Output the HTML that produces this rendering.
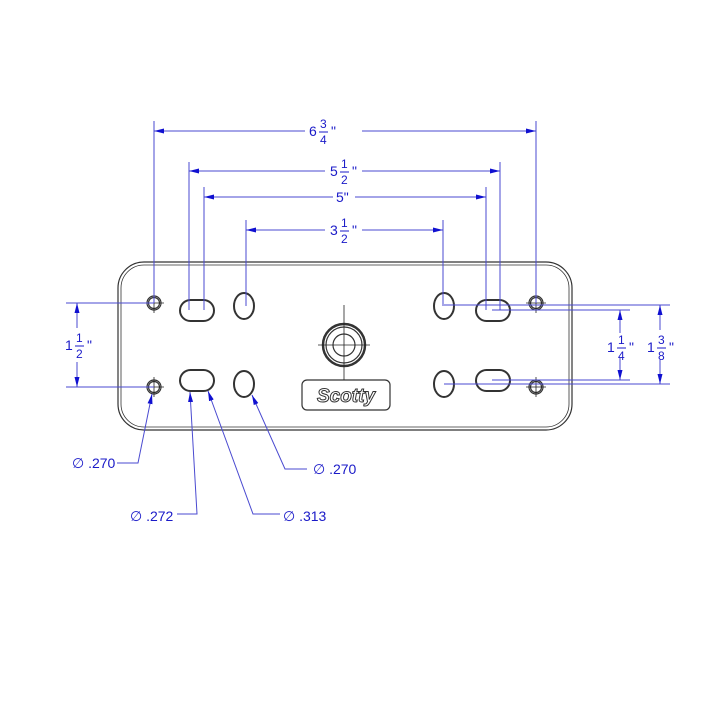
<!DOCTYPE html>
<html><head><style>html,body{margin:0;padding:0;background:#fff}svg{display:block}</style></head><body>
<svg width="720" height="720" viewBox="0 0 720 720" xmlns="http://www.w3.org/2000/svg">
<defs>
<marker id="a" markerWidth="10" markerHeight="6" refX="10" refY="3" orient="auto" markerUnits="userSpaceOnUse"><path d="M0,0.5 L10,3 L0,5.5Z" fill="#1010d0"/></marker>
</defs>
<g fill="none" stroke="#333" stroke-width="1.2">
<rect x="118" y="262" width="454" height="168" rx="26"/>
<rect x="121" y="265" width="448" height="162" rx="23" stroke-width="0.8"/>
<circle cx="154" cy="303" r="7"/><circle cx="154" cy="303" r="5.5"/>
<circle cx="154" cy="387" r="7"/><circle cx="154" cy="387" r="5.5"/>
<circle cx="536" cy="303" r="7"/><circle cx="536" cy="303" r="5.5"/>
<circle cx="536" cy="387" r="7"/><circle cx="536" cy="387" r="5.5"/>
<rect x="180" y="300" width="34" height="21" rx="10.5" stroke-width="2"/>
<rect x="180" y="370" width="34" height="21" rx="10.5" stroke-width="2"/>
<rect x="476" y="300" width="34" height="21" rx="10.5" stroke-width="2"/>
<rect x="476" y="370" width="34" height="21" rx="10.5" stroke-width="2"/>
<ellipse cx="244" cy="306" rx="10" ry="13" stroke-width="2"/>
<ellipse cx="244" cy="384" rx="10" ry="13" stroke-width="2"/>
<ellipse cx="444" cy="306" rx="10" ry="13" stroke-width="2"/>
<ellipse cx="444" cy="384" rx="10" ry="13" stroke-width="2"/>
<circle cx="344" cy="345" r="21" stroke-width="2.5"/><circle cx="344" cy="345" r="18"/><circle cx="344" cy="345" r="11"/>
<rect x="302" y="380" width="88" height="30" rx="5"/>
</g>
<g stroke="#222" stroke-width="0.8">
<line x1="344" y1="305" x2="344" y2="380"/><line x1="318" y1="345" x2="370" y2="345"/>
<line x1="144" y1="303" x2="164" y2="303"/><line x1="154" y1="293" x2="154" y2="313"/>
<line x1="144" y1="387" x2="164" y2="387"/><line x1="154" y1="377" x2="154" y2="397"/>
<line x1="526" y1="303" x2="546" y2="303"/><line x1="536" y1="293" x2="536" y2="313"/>
<line x1="526" y1="387" x2="546" y2="387"/><line x1="536" y1="377" x2="536" y2="397"/>
</g>
<text x="346" y="402" font-family="Liberation Sans, sans-serif" font-style="italic" font-weight="bold" font-size="19" fill="#fff" stroke="#333" stroke-width="1" text-anchor="middle">Scotty</text>
<g stroke="#4a4ad0" stroke-width="1" fill="none">
<line x1="154" y1="121" x2="154" y2="303"/><line x1="536" y1="121" x2="536" y2="303"/>
<line x1="189" y1="162" x2="189" y2="310"/><line x1="500" y1="162" x2="500" y2="310"/>
<line x1="204" y1="187" x2="204" y2="310"/><line x1="486" y1="187" x2="486" y2="310"/>
<line x1="246" y1="220" x2="246" y2="306"/><line x1="443" y1="220" x2="443" y2="306"/>
<line x1="305" y1="131" x2="154" y2="131" marker-end="url(#a)"/><line x1="362" y1="131" x2="536" y2="131" marker-end="url(#a)"/>
<line x1="325" y1="171" x2="189" y2="171" marker-end="url(#a)"/><line x1="362" y1="171" x2="500" y2="171" marker-end="url(#a)"/>
<line x1="333" y1="197" x2="204" y2="197" marker-end="url(#a)"/><line x1="355" y1="197" x2="486" y2="197" marker-end="url(#a)"/>
<line x1="325" y1="230" x2="246" y2="230" marker-end="url(#a)"/><line x1="362" y1="230" x2="443" y2="230" marker-end="url(#a)"/>
<line x1="66" y1="303" x2="154" y2="303"/><line x1="66" y1="387" x2="154" y2="387"/>
<line x1="77" y1="328" x2="77" y2="303" marker-end="url(#a)"/><line x1="77" y1="362" x2="77" y2="387" marker-end="url(#a)"/>
<line x1="444" y1="305" x2="670" y2="305"/><line x1="444" y1="384" x2="670" y2="384"/>
<line x1="492" y1="310" x2="630" y2="310"/><line x1="492" y1="380" x2="630" y2="380"/>
<line x1="620" y1="333" x2="620" y2="310" marker-end="url(#a)"/><line x1="620" y1="358" x2="620" y2="380" marker-end="url(#a)"/>
<line x1="660" y1="330" x2="660" y2="305" marker-end="url(#a)"/><line x1="660" y1="360" x2="660" y2="384" marker-end="url(#a)"/>
<polyline points="117,463 138,463 152,394" marker-end="url(#a)"/>
<polyline points="177,514 197,514 190,392" marker-end="url(#a)"/>
<polyline points="280,514 253,514 208,391" marker-end="url(#a)"/>
<polyline points="307,469 285,469 252,395" marker-end="url(#a)"/>
</g>
<g font-family="Liberation Sans, DejaVu Sans, sans-serif" fill="#1a1ac8" font-size="14">
<text x="309" y="136">6</text><text x="320" y="128" font-size="12">3</text><line x1="319" y1="132" x2="328" y2="132" stroke="#1a1ac8"/><text x="320" y="144" font-size="12">4</text><text x="331" y="136">"</text>
<text x="330" y="176">5</text><text x="341" y="168" font-size="12">1</text><line x1="340" y1="172" x2="349" y2="172" stroke="#1a1ac8"/><text x="341" y="184" font-size="12">2</text><text x="352" y="176">"</text>
<text x="336" y="202">5"</text>
<text x="330" y="235">3</text><text x="341" y="227" font-size="12">1</text><line x1="340" y1="231" x2="349" y2="231" stroke="#1a1ac8"/><text x="341" y="243" font-size="12">2</text><text x="352" y="235">"</text>
<text x="65" y="350">1</text><text x="76" y="342" font-size="12">1</text><line x1="75" y1="346" x2="84" y2="346" stroke="#1a1ac8"/><text x="76" y="358" font-size="12">2</text><text x="87" y="350">"</text>
<text x="607" y="352">1</text><text x="618" y="344" font-size="12">1</text><line x1="617" y1="348" x2="626" y2="348" stroke="#1a1ac8"/><text x="618" y="360" font-size="12">4</text><text x="629" y="352">"</text>
<text x="647" y="352">1</text><text x="658" y="344" font-size="12">3</text><line x1="657" y1="348" x2="666" y2="348" stroke="#1a1ac8"/><text x="658" y="360" font-size="12">8</text><text x="669" y="352">"</text>
<text x="72" y="468">∅ .270</text>
<text x="130" y="521">∅ .272</text>
<text x="283" y="521">∅ .313</text>
<text x="313" y="474">∅ .270</text>
</g>
</svg>
</body></html>
